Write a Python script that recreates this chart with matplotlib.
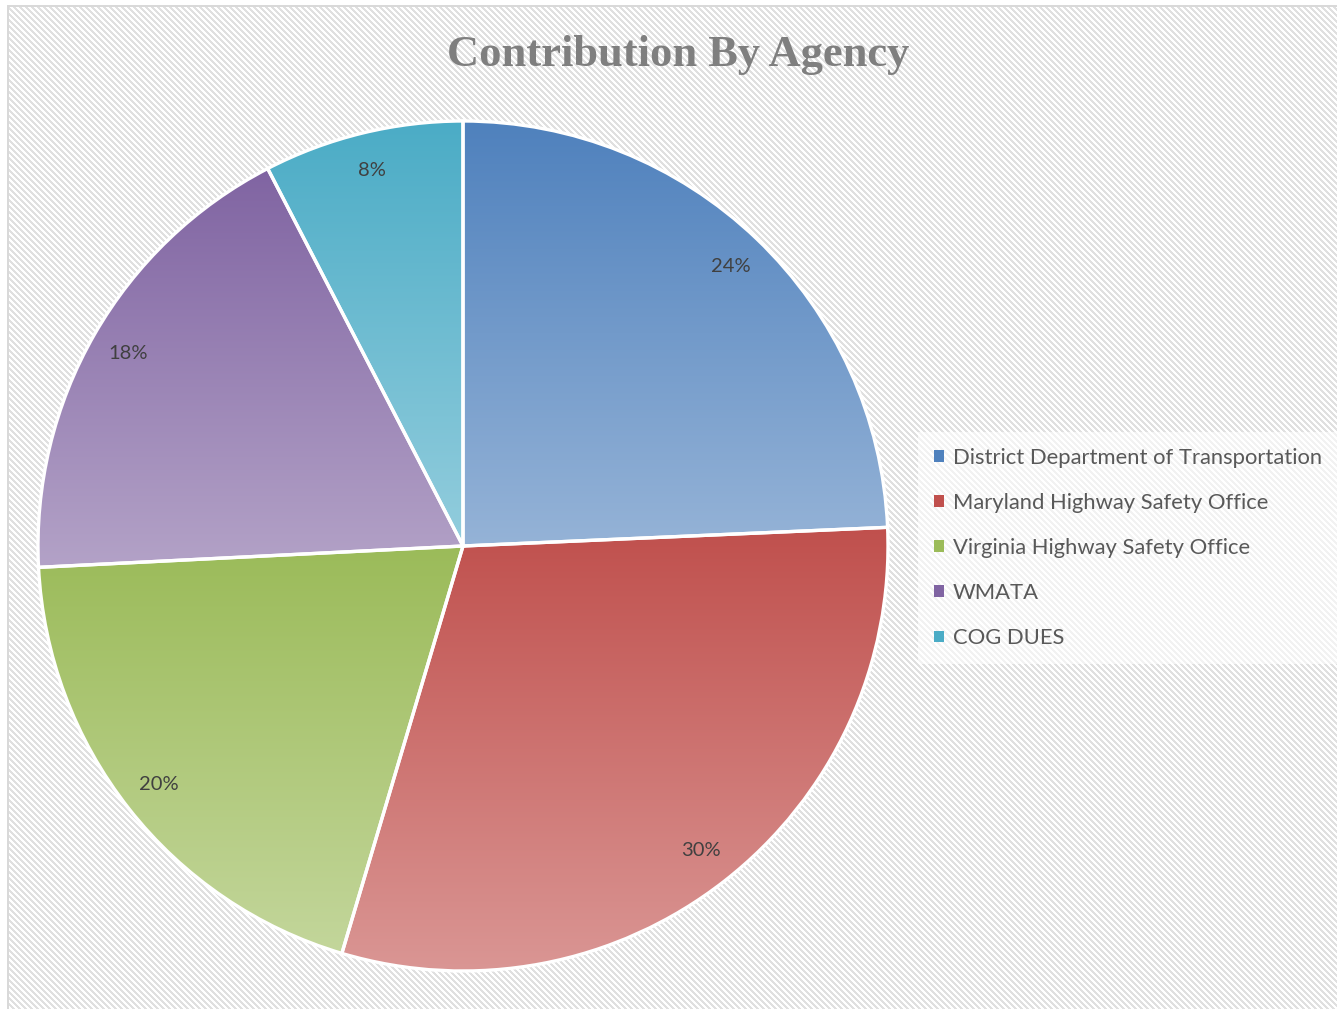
import matplotlib
matplotlib.use("Agg")
import matplotlib.pyplot as plt
import numpy as np
from matplotlib.colors import to_rgb
from matplotlib.patches import Patch

agencies = ["District Department of Transportation", "Maryland Highway Safety Office",
            "Virginia Highway Safety Office", "WMATA", "COG DUES"]
shares = [24.3, 30.3, 19.6, 18.2, 7.6]
top_colors = ["#4F81BD", "#C0504D", "#9BBB59", "#8064A2", "#4BACC6"]
bottom_colors = ["#95B3D7", "#DA9694", "#C3D69B", "#B3A2C7", "#93CDDD"]

W, H = 1337, 1009
fig = plt.figure(figsize=(W / 100, H / 100), dpi=100)
fig.patch.set_facecolor("white")

# striped background like the office chart area
yy, xx = np.mgrid[0:H, 0:W]
bg = np.where(((xx - yy) % 6) < 3, 224, 255).astype(np.uint8)
bg[:5, :] = 255
bg[:, :7] = 255
bg[5:7, 7:] = 217
bg[5:, 7:9] = 217
fig.figimage(np.dstack([bg, bg, bg]), xo=0, yo=0, origin="upper", zorder=-5)

ax = fig.add_axes([38 / W, 38 / H, 850 / W, 850 / H])
ax.set_facecolor("none")
ax.set_zorder(2)
wedges, texts, autotexts = ax.pie(
    shares, startangle=90, counterclock=False, radius=1,
    autopct="%1.0f%%", pctdistance=0.91,
    wedgeprops=dict(facecolor="none", edgecolor="white", linewidth=2.4),
    textprops=dict(color="#404040", fontsize=14.5, family="Lato"))
ax.set_aspect("equal")
ax.axis("off")

# vertical gradient fill in each slice
for w, c1, c2 in zip(wedges, top_colors, bottom_colors):
    ext = w.get_path().get_extents()
    t = np.linspace(0, 1, 256)[:, None]
    grad = (1 - t) * np.array(to_rgb(c1)) + t * np.array(to_rgb(c2))
    grad = grad[:, None, :]
    im = ax.imshow(grad, extent=[ext.x0, ext.x1, ext.y0, ext.y1], origin="upper",
                   aspect="auto", zorder=0.5, interpolation="bilinear")
    im.set_clip_path(w)
for t in autotexts:
    t.set_zorder(3)
ax.set_xlim(-1, 1)
ax.set_ylim(-1, 1)

fig.text(678 / W, 1 - 55 / H, "Contribution By Agency", ha="center", va="center",
         fontsize=32, fontweight="bold", family="Liberation Serif", color="#7F7F7F")

handles = [Patch(facecolor=c, edgecolor="none") for c in top_colors]
leg = fig.legend(handles, agencies, loc="center left", bbox_to_anchor=(918 / W, 1 - 548 / H),
                 frameon=True, fancybox=False, borderaxespad=0, borderpad=0.75,
                 handlelength=0.42, handleheight=0.42, handletextpad=0.42,
                 labelspacing=1.14, prop=dict(family="Lato", size=15.8))
leg.get_frame().set_facecolor("white")
leg.get_frame().set_alpha(0.6)
leg.get_frame().set_edgecolor("none")
for txt in leg.get_texts():
    txt.set_color("#595959")

fig.savefig("out.png", dpi=100)
